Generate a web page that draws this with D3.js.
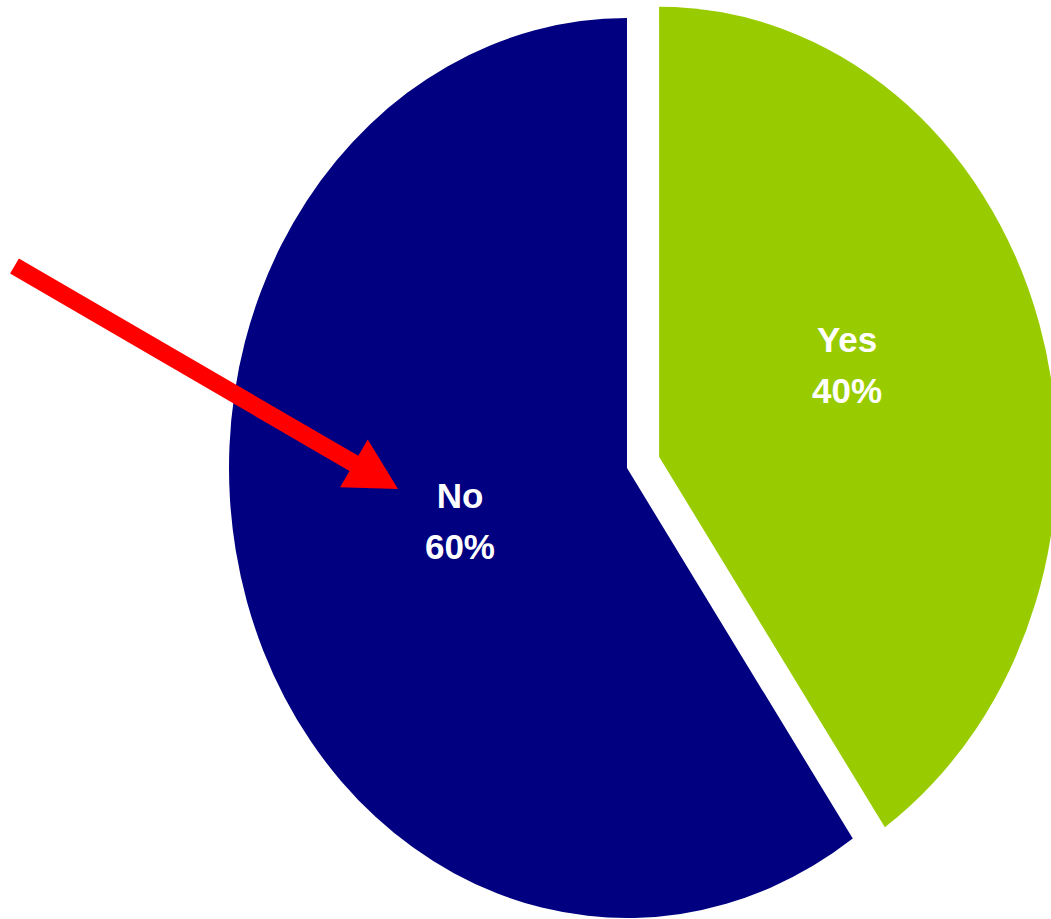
<!DOCTYPE html>
<html>
<head>
<meta charset="utf-8">
<script src="https://cdn.jsdelivr.net/npm/d3@7/dist/d3.min.js"></script>
<style>
  html, body { margin: 0; padding: 0; background: #ffffff; }
  svg { display: block; }
</style>
</head>
<body>
<div id="chart"></div>
<script>
// ---- data ----
const categories = ["Yes", "No"];
const values = [40.4, 59.6];
const pctLabels = ["40%", "60%"];
const colors = ["#99CC00", "#000080"];
const exploded = [true, false];

// ---- layout ----
const W = 1051, H = 919;
const cx = 627, cy = 468;
const ry = 450, rx = 398;
const sx = rx / ry;
const explodeDist = 38;
const labelK = [0.5, 0.45];
const labelNudge = [[-2, -25], [4, -7]];

const svg = d3.select("#chart").append("svg")
  .attr("width", W).attr("height", H);

const pie = d3.pie().sort(null).value(d => d.value)
  .startAngle(0).endAngle(2 * Math.PI);
const arcs = pie(categories.map((c, i) => ({ cat: c, value: values[i], i })));
const arc = d3.arc().innerRadius(0).outerRadius(ry);

const g = svg.append("g").attr("transform", `translate(${cx},${cy}) scale(${sx},1)`);

g.selectAll("path").data(arcs).enter().append("path")
  .attr("d", arc)
  .attr("fill", d => colors[d.data.i])
  .attr("transform", d => {
    if (!exploded[d.data.i]) return null;
    const a = (d.startAngle + d.endAngle) / 2;
    return `translate(${explodeDist * Math.sin(a)},${-explodeDist * Math.cos(a)})`;
  });

// labels (not scaled)
arcs.forEach(d => {
  const i = d.data.i;
  const a = (d.startAngle + d.endAngle) / 2;
  const ex = exploded[i] ? explodeDist : 0;
  const ox = cx + ex * Math.sin(a) * sx;
  const oy = cy - ex * Math.cos(a);
  const x = ox + labelK[i] * rx * Math.sin(a) + labelNudge[i][0];
  const y = oy - labelK[i] * ry * Math.cos(a) + labelNudge[i][1];
  const t = svg.append("text")
    .attr("text-anchor", "middle")
    .attr("font-family", "'Liberation Sans', Arial, sans-serif")
    .attr("font-weight", "bold")
    .attr("font-size", 35)
    .attr("fill", "#ffffff");
  t.append("tspan").attr("x", x).attr("y", y - 13).text(categories[i]);
  t.append("tspan").attr("x", x).attr("y", y + 38).text(pctLabels[i]);
});

// red arrow annotation
const tail = [14.5, 266], tip = [398, 489];
const shaftW = 17.5, headL = 51, headW = 55;
const dx = tip[0] - tail[0], dy = tip[1] - tail[1];
const len = Math.hypot(dx, dy);
const ux = dx / len, uy = dy / len;
const px = -uy, py = ux;
const bx = tip[0] - ux * headL, by = tip[1] - uy * headL;
const pts = [
  [tail[0] + px * shaftW / 2, tail[1] + py * shaftW / 2],
  [bx + px * shaftW / 2, by + py * shaftW / 2],
  [bx + px * headW / 2, by + py * headW / 2],
  tip,
  [bx - px * headW / 2, by - py * headW / 2],
  [bx - px * shaftW / 2, by - py * shaftW / 2],
  [tail[0] - px * shaftW / 2, tail[1] - py * shaftW / 2]
];
svg.append("path")
  .attr("d", d3.line()(pts) + "Z")
  .attr("fill", "#ff0000");
</script>
</body>
</html>
